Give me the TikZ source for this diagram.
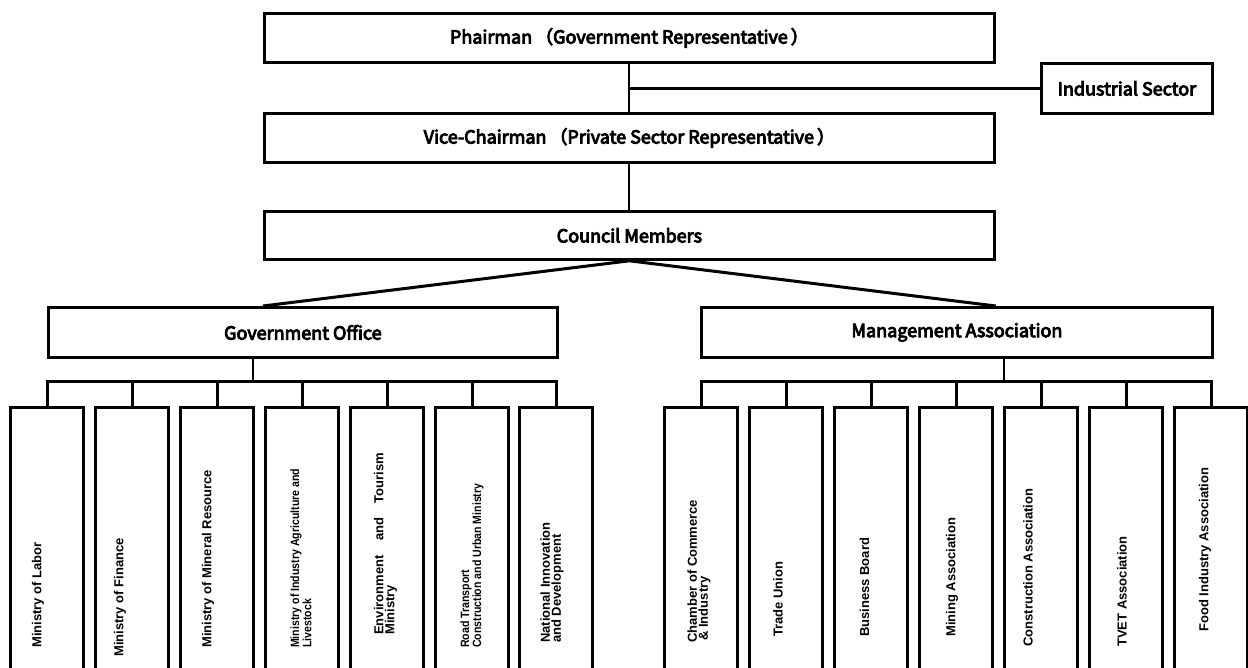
\documentclass[tikz,border=0pt]{standalone}
\usepackage{fontspec}
\setmainfont{Liberation Sans}
\newfontfamily\gothic{Noto Sans CJK JP}[FakeBold=5]
\newfontfamily\narrowbold{Liberation Sans Bold}[FakeStretch=0.88]
\begin{document}
\begin{tikzpicture}[x=1pt,y=-1pt,
  box/.style={draw, line width=2.8pt, rectangle, inner sep=0pt, anchor=north west,
    font=\gothic\fontsize{18}{20}\selectfont},
  unit/.style={draw, line width=2.8pt, rectangle, inner sep=0pt, anchor=north,
    minimum width=73pt, minimum height=320pt},
  lab/.style={rotate=90, anchor=west, inner sep=0pt, align=left},
  labfont/.style={font=\bfseries\fontsize{13}{11}\selectfont},
  narrowfont/.style={font=\narrowbold\fontsize{12}{10.5}\selectfont},
  thinlink/.style={line width=2pt},
  link/.style={line width=2.8pt},
  bus/.style={line width=3pt}]
\useasboundingbox (0,0) rectangle (1248,668);
\clip (0,0) rectangle (1248,668);

% upper hierarchy
\node[box, minimum width=730pt, minimum height=49pt] (chair) at (263,12)
  {Phairman\,（Government Representative\,）};
\node[box, minimum width=171pt, minimum height=50pt] (ind) at (1040,62)
  {Industrial Sector};
\node[box, minimum width=730pt, minimum height=49pt] (vice) at (263,112)
  {Vice-Chairman\,（Private Sector Representative\,）};
\node[box, minimum width=730pt, minimum height=48pt] (council) at (263,210)
  {Council Members};
\node[box, minimum width=509pt, minimum height=50pt] (gov) at (47,306)
  {Government Office};
\node[box, minimum width=511pt, minimum height=50pt] (mgmt) at (700,306)
  {Management Association};

\draw[thinlink] (chair.south) -- (vice.north);
\draw[link] (ind.west -| chair.south) -- (ind.west);
\draw[thinlink] (vice.south) -- (council.north);
\draw[bus] (council.south west |- gov.north) -- (council.south)
  -- (council.south east |- mgmt.north);

% government units
\foreach \i/\x in {1/47,2/132,3/217,4/302,5/387,6/472,7/556}
  \node[unit] (g\i) at (\x,406) {};
\coordinate (gbus) at (253,381);
\draw[link] (gbus |- gov.south) -- (gbus);
\draw[bus] (g1.north) -- (g1.north |- gbus) -- (g7.north |- gbus) -- (g7.north);
\foreach \i in {2,...,6} \draw[bus] (g\i.north |- gbus) -- (g\i.north);

% association units
\foreach \i/\x in {1/701,2/786,3/871,4/956,5/1041,6/1126,7/1211}
  \node[unit] (m\i) at (\x,406) {};
\coordinate (mbus) at (1004,381);
\draw[thinlink] (mbus |- mgmt.south) -- (mbus);
\draw[bus] (m1.north) -- (m1.north |- mbus) -- (m7.north |- mbus) -- (m7.north);
\foreach \i in {2,...,6} \draw[bus] (m\i.north |- mbus) -- (m\i.north);

% unit labels
\node[lab, labfont] (tg1) at (38,648) {Ministry of Labor};
\node[lab, labfont] (tg2) at (120,657) {Ministry of Finance};
\node[lab, labfont] (tg3) at (208,648) {Ministry of Mineral Resource};
\node[lab, narrowfont] (tg4) at (301,648) {Ministry of Industry Agriculture and\\Livestock};
\node[lab, labfont] (tg5) at (385.5,635)
  {\makebox[182pt][l]{Environment\hfill and\hfill Tourism}\\Ministry};
\node[lab, narrowfont] (tg6) at (472,648) {Road Transport\\Construction and Urban Ministry};
\node[lab, labfont] (tg7) at (552,643) {National Innovation\\and Development};

\node[lab, labfont] (tm1) at (699,643) {Chamber of Commerce\\\,\& Industry};
\node[lab, labfont] (tm2) at (778,637) {Trade Union};
\node[lab, labfont] (tm3) at (864.5,637) {Business Board};
\node[lab, labfont] (tm4) at (952,637) {Mining Association};
\node[lab, labfont] (tm5) at (1028,647) {Construction Association};
\node[lab, labfont] (tm6) at (1122,647) {TVET Association};
\node[lab, labfont] (tm7) at (1205,632) {Food Industry Association};
\end{tikzpicture}
\end{document}
